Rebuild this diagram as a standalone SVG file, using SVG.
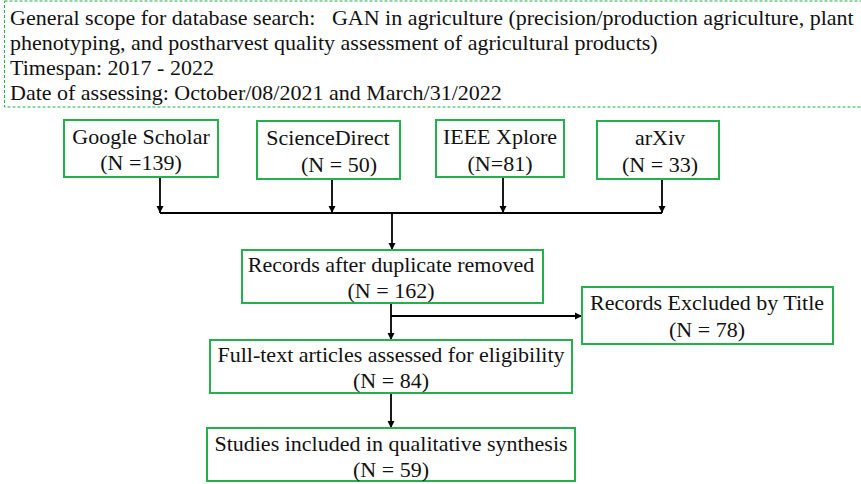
<svg xmlns="http://www.w3.org/2000/svg" width="861" height="484" viewBox="0 0 861 484">
<style>
text{font-family:'Liberation Serif','DejaVu Serif',serif;fill:#111;}
.h{font-size:22px;white-space:pre;}
.b{font-size:22px;text-anchor:middle;}
.box{fill:#fff;stroke:#22b14c;stroke-width:2;}
.c{fill:none;stroke:#000;stroke-width:1.8;}
</style>
<defs>
<marker id="ah" viewBox="0 0 10 10" refX="10" refY="5" markerWidth="4" markerHeight="4" orient="auto" markerUnits="strokeWidth">
<path d="M0,0 L10,5 L0,10 z" fill="#000"/>
</marker>
</defs>
<g id="scope">
<rect x="4.5" y="1" width="870" height="106" fill="none" stroke="#1fb04a" stroke-width="1" stroke-dasharray="3,2"/>
<text class="h" x="10" y="25" xml:space="preserve">General scope for database search:   GAN in agriculture (precision/production agriculture, plant</text>
<text class="h" x="10" y="50">phenotyping, and postharvest quality assessment of agricultural products)</text>
<text class="h" x="10" y="75">Timespan: 2017 - 2022</text>
<text class="h" x="10" y="100">Date of assessing: October/08/2021 and March/31/2022</text>
</g>
<g id="connectors">
<path class="c" d="M160,177 V213" marker-end="url(#ah)"/>
<path class="c" d="M332,179 V213" marker-end="url(#ah)"/>
<path class="c" d="M503,177 V213" marker-end="url(#ah)"/>
<path class="c" d="M662,179 V213" marker-end="url(#ah)"/>
<path class="c" d="M160,213 H662"/>
<path class="c" d="M392,213 V250" marker-end="url(#ah)"/>
<path class="c" d="M391,303 V340" marker-end="url(#ah)"/>
<path class="c" d="M391,316 H582" marker-end="url(#ah)"/>
<path class="c" d="M391,393 V428" marker-end="url(#ah)"/>
</g>
<g id="google">
<rect class="box" x="64" y="120" width="154" height="57"/>
<text class="b" x="141" y="144">Google Scholar</text>
<text class="b" x="141" y="170">(N =139)</text>
</g>
<g id="sciencedirect">
<rect class="box" x="257" y="121" width="143" height="58"/>
<text class="b" x="328" y="145">ScienceDirect</text>
<text class="b" x="339" y="172">(N = 50)</text>
</g>
<g id="ieee">
<rect class="box" x="436" y="120" width="128" height="57"/>
<text class="b" x="500" y="144">IEEE Xplore</text>
<text class="b" x="500" y="171">(N=81)</text>
</g>
<g id="arxiv">
<rect class="box" x="597" y="121" width="122" height="58"/>
<text class="b" x="660" y="145">arXiv</text>
<text class="b" x="660" y="172">(N = 33)</text>
</g>
<g id="records">
<rect class="box" x="242" y="250" width="301" height="53"/>
<text class="b" x="391" y="272">Records after duplicate removed</text>
<text class="b" x="391" y="298">(N = 162)</text>
</g>
<g id="excluded">
<rect class="box" x="582" y="287" width="251" height="57"/>
<text class="b" x="707" y="310">Records Excluded by Title</text>
<text class="b" x="707" y="337">(N = 78)</text>
</g>
<g id="fulltext">
<rect class="box" x="210" y="340" width="362" height="53"/>
<text class="b" x="391" y="362">Full-text articles assessed for eligibility</text>
<text class="b" x="391" y="388">(N = 84)</text>
</g>
<g id="studies">
<rect class="box" x="207" y="428" width="368" height="53"/>
<text class="b" x="391" y="451">Studies included in qualitative synthesis</text>
<text class="b" x="391" y="477">(N = 59)</text>
</g>
</svg>
